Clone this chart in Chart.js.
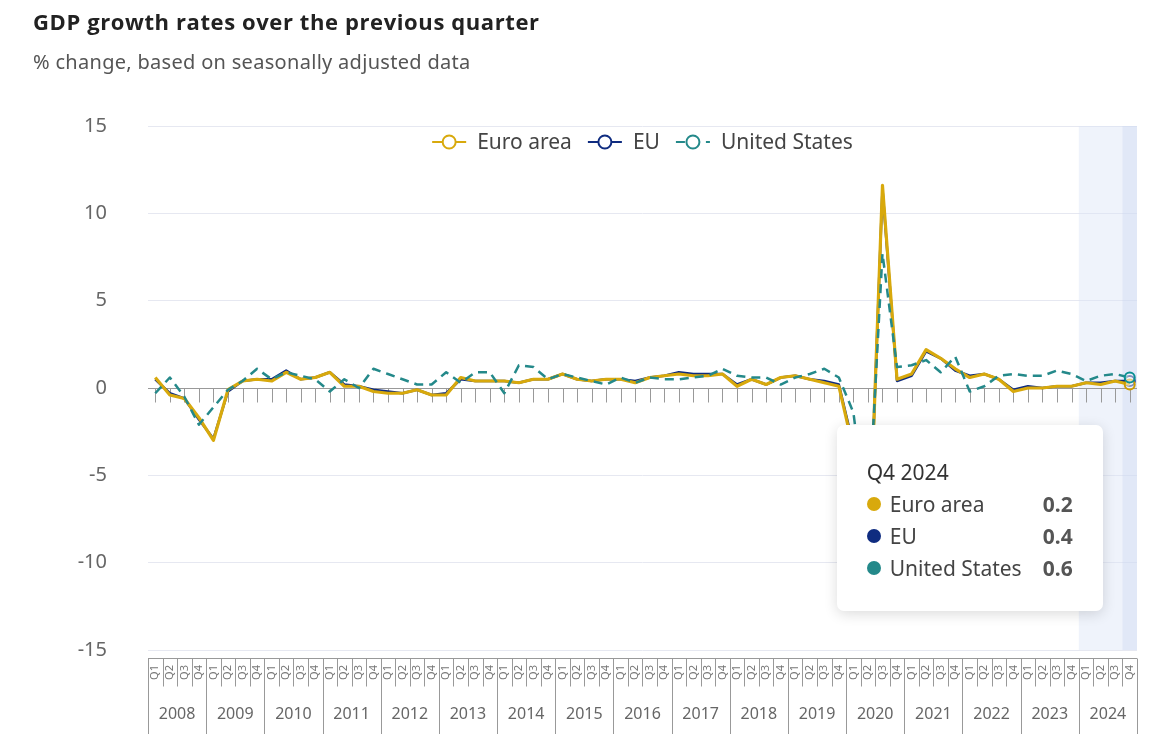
<!DOCTYPE html>
<html>
<head>
<meta charset="utf-8">
<title>GDP growth rates over the previous quarter</title>
<script src="https://cdn.jsdelivr.net/npm/chart.js@4.4.1/dist/chart.umd.min.js"></script>
<style>
  html, body { margin: 0; padding: 0; background: #fff; }
  #wrap { position: relative; width: 1170px; height: 734px; overflow: hidden; }
  #chartBox { position: absolute; left: 0; top: 0; width: 1170px; height: 734px; }
  #title { position: absolute; left: 33px; top: 6px; line-height: 32px; font: bold 22px "Open Sans", sans-serif; letter-spacing: 0.6px; color: #222; }
  #subtitle { position: absolute; left: 33px; top: 48px; line-height: 28px; font: 20px "Noto Sans", sans-serif; letter-spacing: 0.3px; color: #555; }
  #tip {
    position: absolute; display: none; width: 206px; padding: 31px 30px 27px 30px;
    background: #fff; border-radius: 7px; box-shadow: 0 3px 14px rgba(0, 0, 0, 0.14);
    font-family: "Noto Sans", sans-serif; font-size: 21px; color: #444;
  }
  #tip .t { line-height: 32px; color: #333; }
  #tip .r { display: flex; align-items: center; line-height: 32px; white-space: nowrap; }
  #tip .d { width: 14px; height: 14px; border-radius: 50%; margin-right: 9px; flex: none; }
  #tip .v { margin-left: auto; font-weight: bold; color: #555; }
</style>
</head>
<body>
<div id="wrap">
  <div id="chartBox"><canvas id="myChart"></canvas></div>
  <div id="title">GDP growth rates over the previous quarter</div>
  <div id="subtitle">% change, based on seasonally adjusted data</div>
  <div id="tip"></div>
</div>
<script>
const years = ['2008', '2009', '2010', '2011', '2012', '2013', '2014', '2015', '2016',
  '2017', '2018', '2019', '2020', '2021', '2022', '2023', '2024'];
const quarters = ['Q1', 'Q2', 'Q3', 'Q4'];

const euroArea = [
  0.6, -0.4, -0.6, -1.7,   -3.0, -0.1, 0.4, 0.5,   0.4, 0.9, 0.5, 0.6,
  0.9, 0.1, 0.1, -0.2,     -0.3, -0.3, -0.1, -0.4, -0.4, 0.6, 0.4, 0.4,
  0.4, 0.3, 0.5, 0.5,      0.8, 0.5, 0.4, 0.5,     0.5, 0.3, 0.6, 0.7,
  0.8, 0.7, 0.7, 0.8,      0.1, 0.5, 0.2, 0.6,     0.7, 0.5, 0.3, 0.1,
  -3.5, -11.3, 11.6, 0.5,  0.8, 2.2, 1.7, 1.1,     0.6, 0.8, 0.5, -0.2,
  0.0, 0.0, 0.1, 0.1,      0.3, 0.2, 0.4, 0.2
];
const eu = [
  0.5, -0.3, -0.6, -1.8,   -2.9, -0.2, 0.4, 0.5,   0.5, 1.0, 0.5, 0.6,
  0.9, 0.2, 0.1, -0.1,     -0.2, -0.3, -0.1, -0.4, -0.3, 0.5, 0.4, 0.4,
  0.4, 0.3, 0.5, 0.5,      0.8, 0.5, 0.4, 0.5,     0.5, 0.4, 0.6, 0.7,
  0.9, 0.8, 0.8, 0.8,      0.2, 0.5, 0.2, 0.6,     0.7, 0.5, 0.4, 0.2,
  -3.3, -11.1, 11.4, 0.4,  0.7, 2.1, 1.7, 1.0,     0.7, 0.8, 0.5, -0.1,
  0.1, 0.0, 0.1, 0.1,      0.3, 0.3, 0.4, 0.4
];
const unitedStates = [
  -0.3, 0.6, -0.5, -2.1,   -1.1, -0.1, 0.4, 1.1,   0.5, 0.9, 0.7, 0.5,
  -0.2, 0.5, 0.0, 1.1,     0.8, 0.5, 0.2, 0.2,     0.9, 0.3, 0.9, 0.9,
  -0.3, 1.3, 1.2, 0.5,     0.8, 0.6, 0.4, 0.2,     0.6, 0.3, 0.6, 0.5,
  0.5, 0.6, 0.7, 1.1,      0.7, 0.6, 0.6, 0.2,     0.6, 0.8, 1.1, 0.6,
  -1.4, -7.9, 7.7, 1.2,    1.3, 1.6, 0.9, 1.8,     -0.2, 0.1, 0.7, 0.8,
  0.7, 0.7, 1.0, 0.8,      0.4, 0.7, 0.8, 0.6
];

const labels = [];
years.forEach((y) => quarters.forEach((q) => labels.push(q + ' ' + y)));

const GOLD = '#d8a90c';
const NAVY = '#0f2c80';
const TEAL = '#24898a';
const FONT = '"Noto Sans", sans-serif';

// light band over the last year, darker over the hovered quarter
const bandPlugin = {
  id: 'band',
  beforeDatasetsDraw(chart) {
    const { ctx, chartArea: a, scales: { x, y } } = chart;
    const step = x.getPixelForValue(1) - x.getPixelForValue(0);
    const last = labels.length - 1;
    const first = labels.findIndex((l) => l.endsWith(years[years.length - 1]));
    ctx.save();
    let x0 = x.getPixelForValue(first) - step / 2;
    ctx.fillStyle = 'rgba(220, 228, 246, 0.45)';
    ctx.fillRect(x0, a.top, a.right - x0, a.bottom - a.top);
    x0 = x.getPixelForValue(last) - step / 2;
    ctx.fillStyle = 'rgba(200, 212, 240, 0.35)';
    ctx.fillRect(x0, a.top, a.right - x0, a.bottom - a.top);

    // zero axis line with ticks
    const y0 = Math.round(y.getPixelForValue(0)) + 0.5;
    ctx.strokeStyle = '#999';
    ctx.lineWidth = 1;
    ctx.beginPath();
    ctx.moveTo(a.left, y0);
    ctx.lineTo(a.right, y0);
    for (let i = 0; i < labels.length; i++) {
      const px = Math.round(x.getPixelForValue(i)) + 0.5;
      ctx.moveTo(px, y0);
      ctx.lineTo(px, y0 + 14);
    }
    ctx.stroke();
    ctx.restore();
  }
};

// legend with line + hollow circle symbols, inside the plot top
const legendPlugin = {
  id: 'lineLegend',
  afterDatasetsDraw(chart) {
    const { ctx, chartArea: a } = chart;
    const sets = chart.data.datasets;
    ctx.save();
    ctx.font = '21px ' + FONT;
    const symW = 34, gap = 11, itemGap = 16;
    const widths = sets.map((d) => symW + gap + ctx.measureText(d.label).width);
    const total = widths.reduce((s, w) => s + w, 0) + itemGap * (sets.length - 1);
    let px = (a.left + a.right) / 2 - total / 2;
    const py = a.top + 16;
    sets.forEach((d, i) => {
      ctx.strokeStyle = d.borderColor;
      ctx.lineWidth = 2;
      ctx.setLineDash(d.borderDash || []);
      ctx.beginPath();
      ctx.moveTo(px, py);
      ctx.lineTo(px + symW, py);
      ctx.stroke();
      ctx.setLineDash([]);
      ctx.beginPath();
      ctx.arc(px + symW / 2, py, 6.5, 0, Math.PI * 2);
      ctx.fillStyle = '#fff';
      ctx.fill();
      ctx.stroke();
      ctx.fillStyle = '#444';
      ctx.textAlign = 'left';
      ctx.textBaseline = 'middle';
      ctx.fillText(d.label, px + symW + gap, py + 1);
      px += widths[i] + itemGap;
    });
    ctx.restore();
  }
};

// grouped category labels below the plot: quarters then years
const groupAxisPlugin = {
  id: 'groupAxis',
  afterDraw(chart) {
    const { ctx, chartArea: a, scales: { x } } = chart;
    const step = x.getPixelForValue(1) - x.getPixelForValue(0);
    const top = Math.round(a.bottom) + 8.5;
    const bottom = chart.height;
    ctx.save();
    ctx.strokeStyle = '#999';
    ctx.lineWidth = 1;
    ctx.beginPath();
    ctx.moveTo(a.left, top);
    ctx.lineTo(a.right, top);
    for (let i = 0; i <= labels.length; i++) {
      const bx = Math.round(x.getPixelForValue(0) - step / 2 + i * step) + 0.5;
      ctx.moveTo(bx, top);
      ctx.lineTo(bx, i % 4 === 0 ? bottom : top + 28);
    }
    ctx.stroke();

    ctx.fillStyle = '#777';
    ctx.font = '11px ' + FONT;
    ctx.textAlign = 'center';
    ctx.textBaseline = 'middle';
    labels.forEach((l, i) => {
      ctx.save();
      ctx.translate(x.getPixelForValue(i), top + 14);
      ctx.rotate(-Math.PI / 2);
      ctx.fillText(quarters[i % 4], 0, 0);
      ctx.restore();
    });

    ctx.fillStyle = '#666';
    ctx.font = '16px ' + FONT;
    years.forEach((yr, k) => {
      const cx = (x.getPixelForValue(k * 4) + x.getPixelForValue(k * 4 + 3)) / 2;
      ctx.fillText(yr, cx, top + 56);
    });
    ctx.restore();
  }
};

const externalTip = (context) => {
  const { chart, tooltip } = context;
  const el = document.getElementById('tip');
  if (tooltip.opacity === 0) { el.style.display = 'none'; return; }
  const pts = tooltip.dataPoints.slice().sort((p, q) => p.datasetIndex - q.datasetIndex);
  let html = '<div class="t">' + pts[0].label + '</div>';
  pts.forEach((p) => {
    html += '<div class="r"><span class="d" style="background:' + p.dataset.borderColor + '"></span>' +
      '<span>' + p.dataset.label + '</span><span class="v">' + p.raw.toFixed(1) + '</span></div>';
  });
  el.innerHTML = html;
  el.style.display = 'block';
  el.style.left = (tooltip.caretX - 293) + 'px';
  el.style.top = (tooltip.caretY + 44) + 'px';
};

const ctx = document.getElementById('myChart').getContext('2d');
const myChart = new Chart(ctx, {
  type: 'line',
  data: {
    labels: labels,
    datasets: [
      { label: 'Euro area', data: euroArea, borderColor: GOLD, borderWidth: 3.2, order: 1 },
      { label: 'EU', data: eu, borderColor: NAVY, borderWidth: 2.5, order: 2 },
      { label: 'United States', data: unitedStates, borderColor: TEAL, borderWidth: 2.5, borderDash: [9, 6], order: 0 },
    ],
  },
  options: {
    responsive: true,
    maintainAspectRatio: false,
    animation: false,
    events: [],
    layout: { padding: { top: 126, right: 33, bottom: 84, left: 0 } },
    elements: {
      line: { tension: 0, borderJoinStyle: 'round' },
      point: { radius: 0, hoverRadius: 5, hoverBorderWidth: 2, hoverBackgroundColor: 'rgba(255,255,255,0.5)' },
    },
    interaction: { mode: 'index', intersect: false },
    scales: {
      x: { type: 'category', display: false, offset: true },
      y: {
        min: -15, max: 15,
        afterFit: (scale) => { scale.width = 148; },
        ticks: { stepSize: 5, padding: 41, color: '#666', font: { family: FONT, size: 20 } },
        grid: { color: '#e6e8f1', drawTicks: false },
        border: { display: false },
      },
    },
    plugins: {
      legend: { display: false },
      tooltip: { enabled: false, external: externalTip },
    },
  },
  plugins: [bandPlugin, legendPlugin, groupAxisPlugin],
});

const lastIdx = labels.length - 1;
const active = myChart.data.datasets.map((d, i) => ({ datasetIndex: i, index: lastIdx }));
myChart.setActiveElements(active);
myChart.tooltip.setActiveElements(active, { x: 0, y: 0 });
myChart.update('none');
</script>
</body>
</html>
